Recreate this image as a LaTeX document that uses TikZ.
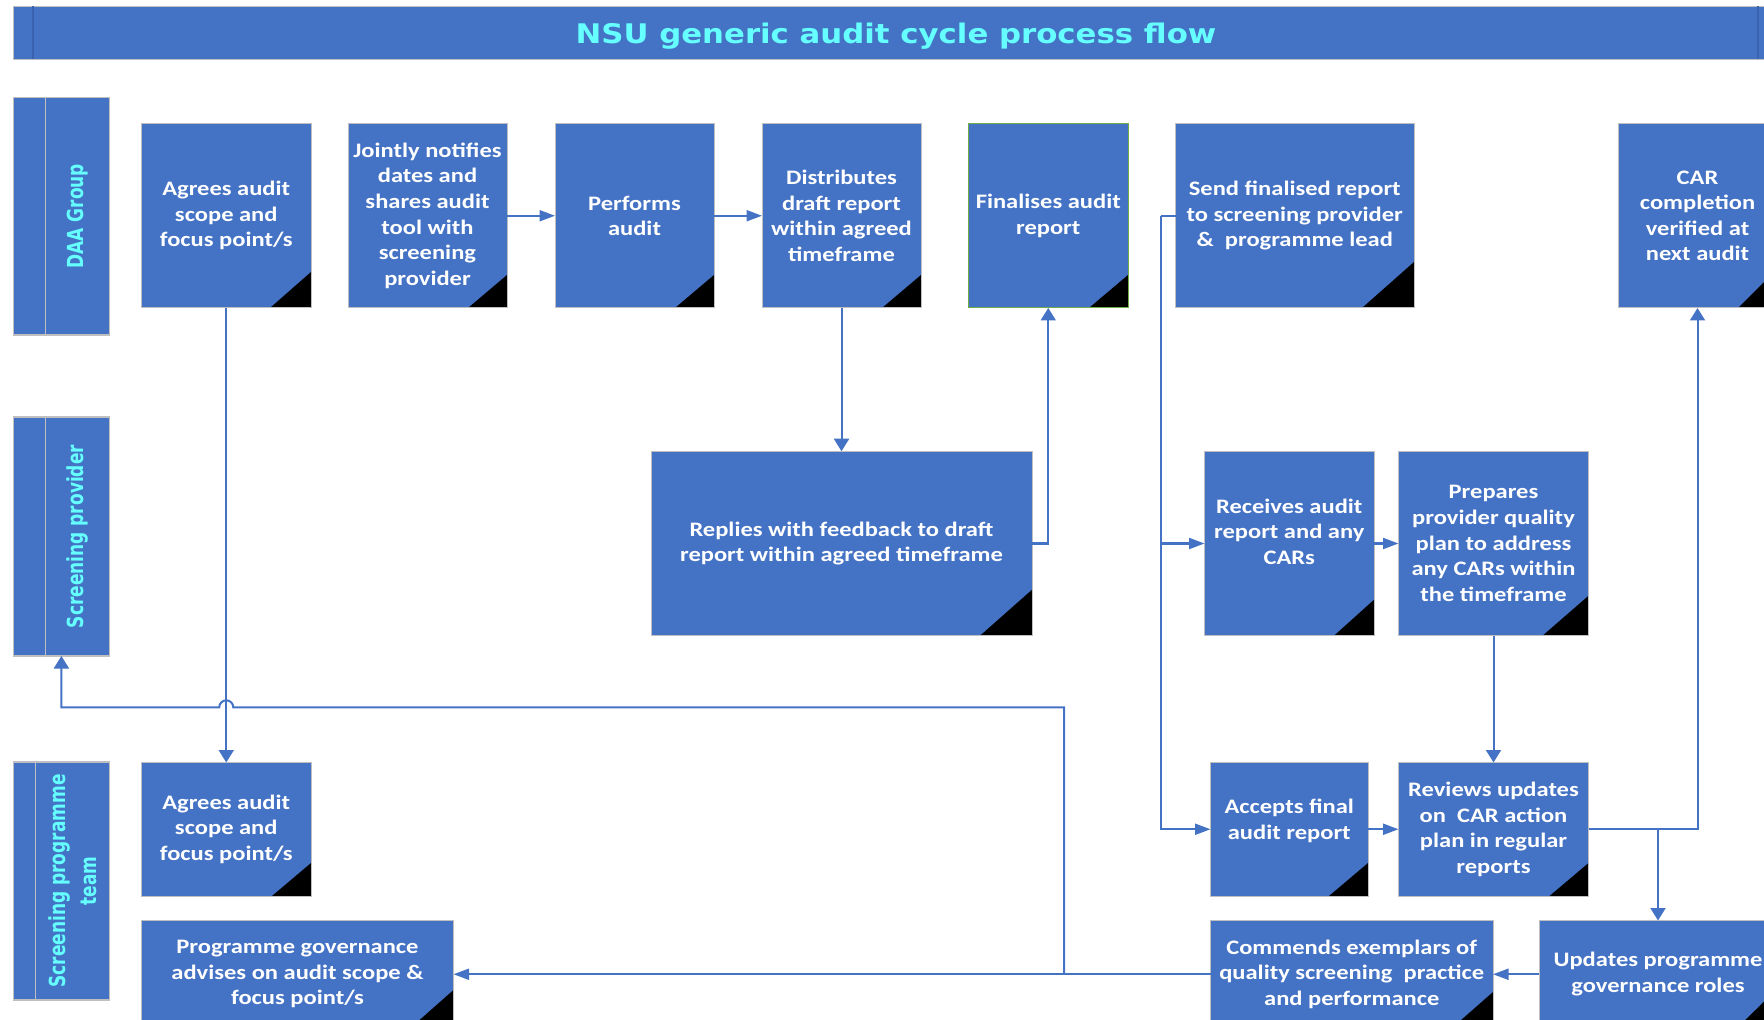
\documentclass[tikz,border=0pt]{standalone}
\usepackage{fontspec}
\setmainfont{Carlito}[FakeStretch=1.19]
\newfontfamily\headfont{DejaVu Sans}[FakeStretch=1.14]
\newfontfamily\lanefont{DejaVu Sans}
\usetikzlibrary{arrows.meta,positioning}

\definecolor{boxblue}{HTML}{4472C4}
\definecolor{edgegray}{HTML}{BFBFBF}
\definecolor{okgreen}{HTML}{70AD47}
\definecolor{titlecyan}{HTML}{66FFFF}
\definecolor{bardark}{HTML}{3A62AE}

\newcommand{\boxfont}{\bfseries\fontsize{10.3}{12.8}\selectfont}

\tikzset{
  blackcorner/.style 2 args={path picture={
    \fill[black] ([xshift=-#1]path picture bounding box.south east)
      -- (path picture bounding box.south east)
      -- ([yshift=#2]path picture bounding box.south east) -- cycle;}},
}

\begin{document}
\begin{tikzpicture}[x=0.5pt, y=-0.5pt, >={Triangle[length=6.25pt,width=7.5pt]},
  actbox/.style={rectangle, fill=boxblue, draw=edgegray, line width=0.5pt, text=white,
    font=\boxfont, align=center, inner sep=0pt, outer sep=0pt, blackcorner={19.5pt}{16.5pt}},
  rowone/.style={minimum height=92.25pt},
  rowthree/.style={minimum height=66.75pt},
  rowfour/.style={minimum height=53.75pt},
  lanebox/.style={rectangle, fill=boxblue, draw=edgegray, line width=0.6pt,
    minimum width=47.9pt, inner sep=0pt, outer sep=0pt},
  lanetext/.style={text=titlecyan, font=\lanefont\bfseries\fontsize{8.5}{12}\selectfont,
    align=center, rotate=90, yscale=1.3},
  flow/.style={draw=boxblue, line width=1pt},
  toside/.style={-{Triangle[length=7.75pt,width=5.5pt]}}]

  \useasboundingbox (0,0) rectangle (1764,1020);
  \clip (0,0) rectangle (1764,1020);

  % title bar
  \draw[fill=boxblue, draw=edgegray, line width=0.5pt] (13,6.5) rectangle (1800,59.5);
  \draw[bardark, line width=0.8pt] (33,6.5) -- (33,59.5);
  \draw[bardark, line width=0.8pt] (1758,6.5) -- (1758,59.5);
  \node[font=\headfont\bfseries\fontsize{13.5}{16}\selectfont, text=titlecyan] (title) at (896,36)
    {NSU generic audit cycle process flow};

  % lanes
  \node[lanebox, minimum height=118.85pt] (daalane) at (61.4,216.2) {};
  \node[lanebox, minimum height=119.5pt] (provlane) at (61.4,536.5) {};
  \node[lanebox, minimum height=119pt] (proglane) at (61.4,881) {};
  \draw[edgegray, line width=0.6pt] ([xshift=15.9pt]daalane.north west) -- ([xshift=15.9pt]daalane.south west);
  \draw[edgegray, line width=0.6pt] ([xshift=15.9pt]provlane.north west) -- ([xshift=15.9pt]provlane.south west);
  \draw[edgegray, line width=0.6pt] ([xshift=11pt]proglane.north west) -- ([xshift=11pt]proglane.south west);
  \node[lanetext] (daalabel) at (77.4,216.2) {DAA Group};
  \node[lanetext] (provlabel) at (77.4,536.5) {Screening provider};
  \node[lanetext] (proglabel) at (72.5,881) {Screening programme\\team};

  % DAA group
  \node[actbox, rowone, minimum width=84.75pt, blackcorner={20.5pt}{18pt}] (agree) at (226.25,215.75)
    {Agrees audit\\scope and\\focus point/s};
  \node[actbox, rowone, minimum width=79.5pt, right=18.5pt of agree] (notify)
    {Jointly notifies\\dates and\\shares audit\\tool with\\screening\\provider};
  \node[actbox, rowone, minimum width=79.5pt, right=24pt of notify] (perform) {Performs\\audit};
  \node[actbox, rowone, minimum width=79.5pt, right=24pt of perform] (distrib)
    {Distributes\\draft report\\within agreed\\timeframe};
  \node[actbox, rowone, draw=okgreen, minimum width=79.75pt, right=23.75pt of distrib] (finalise)
    {Finalises audit\\report};
  \node[actbox, rowone, minimum width=119.25pt, blackcorner={26pt}{23pt}, right=23.75pt of finalise] (sendrep)
    {Send finalised report\\to screening provider\\\&\ \ programme lead};
  \node[actbox, rowone, minimum width=79.5pt, blackcorner={19.5pt}{19.5pt}, right=102pt of sendrep] (carverify)
    {CAR\\completion\\verified at\\next audit};

  % screening provider
  \node[actbox, rowone, minimum width=190.5pt, blackcorner={26pt}{23pt}] (reply) at (841.5,543.5)
    {Replies with feedback to draft\\report within agreed timeframe};
  \node[actbox, rowone, minimum width=84.75pt, blackcorner={20pt}{18pt}] (receive) at (1289.25,543.5)
    {Receives audit\\report and any\\CARs\\[-0.8pt]\mbox{}};
  \node[actbox, rowone, minimum width=95pt, blackcorner={23pt}{20pt}, right=12.25pt of receive] (prepare)
    {Prepares\\provider quality\\plan to address\\any CARs within\\the timeframe};

  % screening programme team
  \node[actbox, rowthree, minimum width=84.75pt] (agreeprog) at (226.25,829.25)
    {Agrees audit\\scope and\\focus point/s};
  \node[actbox, rowthree, minimum width=78.75pt] (accept) at (1289.25,829.25)
    {Accepts final\\audit report\\[-2.8pt]\mbox{}};
  \node[actbox, rowthree, minimum width=95pt] (review) at (1493.5,829.25)
    {Reviews updates\\on\ \ CAR action\\plan in regular\\reports};
  \node[actbox, rowfour, minimum width=156pt, blackcorner={21.5pt}{19pt}] (govern) at (297.5,974.25)
    {Programme governance\\advises on audit scope \&\\focus point/s};
  \node[actbox, rowfour, minimum width=141.25pt, blackcorner={20.5pt}{18pt}] (commend) at (1351.75,974.25)
    {Commends exemplars of\\quality screening\ \ practice\\and performance};
  \node[actbox, rowfour, minimum width=119pt, blackcorner={20pt}{19.5pt}] (updategov) at (1658,974.25)
    {Updates programme\\governance roles};

  % connectors
  \draw[flow, toside] (notify) -- (perform);
  \draw[flow, toside] (perform) -- (distrib);
  \draw[flow, ->] (agree) -- (agreeprog);
  \draw[flow, ->] (distrib) -- (reply);
  \draw[flow, ->] (reply) -| (finalise);
  \draw[flow] (sendrep.west) -- ++(-7.25pt,0) coordinate (fork);
  \draw[flow, toside] (fork) |- (receive);
  \draw[flow, toside] (fork) |- (accept);
  \draw[flow, toside] (receive) -- (prepare);
  \draw[flow, ->] (prepare) -- (review);
  \draw[flow, toside] (accept) -- (review);
  \draw[flow, ->] (review) -| (carverify);
  \draw[flow, ->] (review.east -| updategov.north) -- (updategov);
  \draw[flow, toside] (updategov) -- (commend);
  \draw[flow, toside] (commend) -- (govern);
  \coordinate (feedback) at (1064,974.25);
  \coordinate (hop) at (226.25,707.3);
  \draw[flow, ->] (feedback) |- ([xshift=3.5pt]hop)
    arc[start angle=0, end angle=180, radius=3.5pt] -| (provlane);
\end{tikzpicture}
\end{document}
